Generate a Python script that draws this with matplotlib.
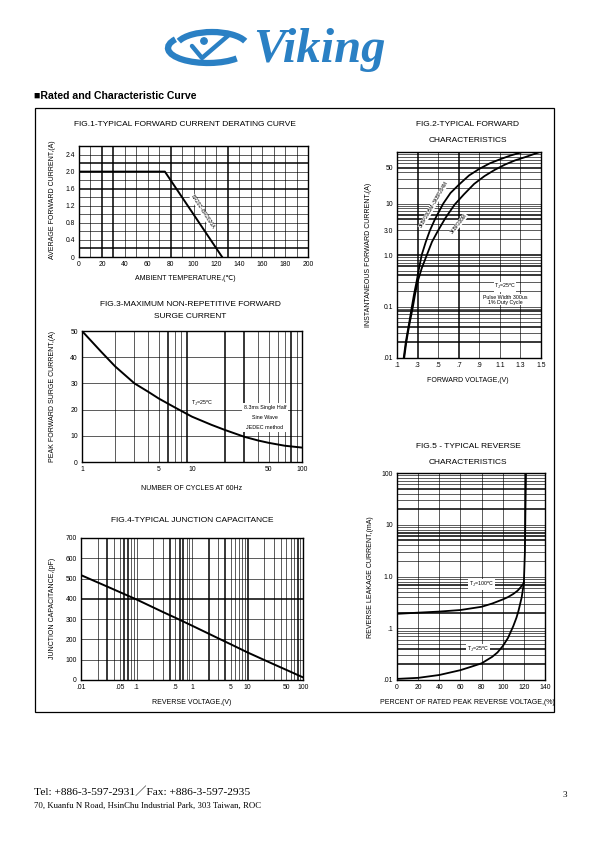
import numpy as np
import matplotlib
matplotlib.use("Agg")
import matplotlib.pyplot as plt
from matplotlib.patches import Rectangle, Arc

plt.rcParams["font.family"] = ["Liberation Sans", "DejaVu Sans"]
plt.rcParams["mathtext.fontset"] = "custom"
plt.rcParams["mathtext.rm"] = "Liberation Sans"

W, H = 595, 842

# -----------------------------
# data
# -----------------------------
# fig.1 derating
temp_c = [0, 75, 125]
avg_current = [2.0, 2.0, 0.0]
fig1_xticks = [0, 20, 40, 60, 80, 100, 120, 140, 160, 180, 200]
fig1_yticks = [0, 0.4, 0.8, 1.2, 1.6, 2.0, 2.4]
fig1_ylabels = ["0", "0.4", "0.8", "1.2", "1.6", "2.0", "2.4"]

# fig.2 forward characteristics
vf_a = [0.165, 0.185, 0.2, 0.22, 0.245, 0.265, 0.29, 0.31, 0.34, 0.38, 0.42, 0.47,
        0.55, 0.62, 0.7, 0.8, 0.9, 1.0, 1.1, 1.2, 1.32]
if_a = [0.01, 0.02, 0.03, 0.05, 0.1, 0.17, 0.3, 0.5, 1.0, 1.8, 3.0, 5.0,
        10, 16, 23, 35, 47, 60, 72, 85, 100]
vf_b = [0.17, 0.19, 0.205, 0.225, 0.255, 0.275, 0.3, 0.34, 0.39, 0.44, 0.5, 0.57,
        0.66, 0.75, 0.85, 0.95, 1.05, 1.15, 1.25, 1.35, 1.49]
if_b = [0.01, 0.02, 0.03, 0.05, 0.1, 0.17, 0.3, 0.55, 1.0, 1.8, 3.0, 5.2,
        9.5, 15, 24, 34, 45, 57, 69, 80, 100]
fig2_xticks = [0.1, 0.3, 0.5, 0.7, 0.9, 1.1, 1.3, 1.5]
fig2_xlabels = [".1", ".3", ".5", ".7", ".9", "1.1", "1.3", "1.5"]
fig2_yticks = [0.01, 0.1, 1.0, 3.0, 10, 50]
fig2_ylabels = [".01", "0.1", "1.0", "3.0", "10", "50"]

# fig.3 surge current
cycles = [1, 1.5, 2, 3, 4, 5, 7, 10, 15, 20, 30, 40, 50, 70, 100]
surge_a = [50, 42, 36.5, 30, 26.8, 24.2, 20.8, 17.3, 14.2, 12.2, 9.6, 8.2, 7.3, 6.2, 5.5]
fig3_xticks = [1, 5, 10, 50, 100]
fig3_yticks = [0, 10, 20, 30, 40, 50]

# fig.4 junction capacitance
vr = [0.01, 0.03, 0.1, 0.3, 0.5, 1, 3, 5, 10, 30, 50, 100]
cj_pf = [517, 460, 397, 335, 307, 268, 205, 176, 136, 77, 50, 13]
fig4_xticks = [0.01, 0.05, 0.1, 0.5, 1, 5, 10, 50, 100]
fig4_xlabels = [".01", ".05", ".1", ".5", "1", "5", "10", "50", "100"]
fig4_yticks = [0, 100, 200, 300, 400, 500, 600, 700]

# fig.5 reverse characteristics
pct_100 = [0, 20, 40, 60, 80, 90, 100, 105, 110, 114, 117, 120, 121, 121.5, 122]
ir_100 = [0.19, 0.2, 0.21, 0.225, 0.26, 0.3, 0.36, 0.4, 0.46, 0.53, 0.62, 0.75, 3, 20, 100]
pct_25 = [0, 20, 40, 60, 70, 80, 90, 95, 100, 105, 110, 113, 115, 118, 120]
ir_25 = [0.0105, 0.011, 0.0125, 0.0155, 0.018, 0.021, 0.028, 0.034, 0.045, 0.065, 0.11,
         0.16, 0.22, 0.4, 0.75]
fig5_xticks = [0, 20, 40, 60, 80, 100, 120, 140]
fig5_yticks = [0.01, 0.1, 1.0, 10, 100]
fig5_ylabels = [".01", ".1", "1.0", "10", "100"]

BLUE = "#2a80c4"
TICK_FS = 4.9
LABEL_FS = 5.0
TITLE_FS = 6.0


def add_ax(l, t, r, b):
    return fig.add_axes([l / W, 1 - b / H, (r - l) / W, (b - t) / H])


def style_ax(ax):
    for s in ax.spines.values():
        s.set_linewidth(1.0)
        s.set_color("black")
    ax.tick_params(length=0, labelsize=TICK_FS, pad=3)
    ax.minorticks_off()


def vgrid(ax, xs, thick=()):
    for x in xs:
        ax.axvline(x, color="black", lw=1.1 if x in thick else 0.45, zorder=1)


def hgrid(ax, ys, thick=()):
    for y in ys:
        ax.axhline(y, color="black", lw=1.1 if y in thick else 0.45, zorder=1)


def log_minors(lo_exp, hi_exp):
    out = []
    for e in range(lo_exp, hi_exp):
        for m in range(2, 10):
            out.append(round(m * 10.0 ** e, 6))
    return out


fig = plt.figure(figsize=(W / 100, H / 100), dpi=100)

# page layer (pixel coordinates)
page = fig.add_axes([0, 0, 1, 1])
page.set_xlim(0, W)
page.set_ylim(H, 0)
page.axis("off")

# logo
page.add_patch(Arc((208, 48), 80, 30, theta1=20, theta2=195, color=BLUE, lw=4.5))
page.add_patch(Arc((212, 47), 72, 30, theta1=190, theta2=350, color=BLUE, lw=4.5))
page.plot([192, 202, 230], [46, 58, 34], color=BLUE, lw=3.2, solid_capstyle="round")
page.add_patch(plt.Circle((204, 41), 3.2, color=BLUE))
page.text(253, 50, "Viking", family="Liberation Serif", style="italic", weight="bold",
          fontsize=35, color=BLUE, va="center", ha="left")

page.text(34, 96, "\u25a0Rated and Characteristic Curve", fontsize=7.6, weight="bold",
          va="center", ha="left")
page.add_patch(Rectangle((35, 108), 519, 604, fill=False, lw=0.9, ec="black"))

# footer
page.text(34, 792, "Tel: +886-3-597-2931\uff0fFax: +886-3-597-2935",
          family=["Liberation Serif", "Noto Sans CJK SC"],
          fontsize=8.2, va="center", ha="left")
page.text(34, 806, "70, Kuanfu N Road, HsinChu Industrial Park, 303 Taiwan, ROC",
          family="Liberation Serif", fontsize=6.3, va="center", ha="left")
page.text(563, 795, "3", family="Liberation Serif", fontsize=6.5, va="center", ha="left")

# titles and axis labels (pixel coordinates)
page.text(185, 125, "FIG.1-TYPICAL FORWARD CURRENT DERATING CURVE", fontsize=TITLE_FS, ha="center", va="center")
page.text(185, 279, "AMBIENT TEMPERATURE,(\u2103)", fontsize=LABEL_FS, ha="center", va="center")
page.text(53, 200, "AVERAGE FORWARD CURRENT,(A)", fontsize=LABEL_FS, ha="center", va="center", rotation=90)

page.text(468, 124, "FIG.2-TYPICAL FORWARD", fontsize=TITLE_FS, ha="center", va="center")
page.text(468, 141, "CHARACTERISTICS", fontsize=TITLE_FS, ha="center", va="center")
page.text(468, 380, "FORWARD VOLTAGE,(V)", fontsize=LABEL_FS, ha="center", va="center")
page.text(368, 255, "INSTANTANEOUS FORWARD CURRENT,(A)", fontsize=LABEL_FS, ha="center", va="center", rotation=90)

page.text(190, 305, "FIG.3-MAXIMUM NON-REPETITIVE FORWARD", fontsize=TITLE_FS, ha="center", va="center")
page.text(190, 316, "SURGE CURRENT", fontsize=TITLE_FS, ha="center", va="center")
page.text(192, 488, "NUMBER OF CYCLES AT 60Hz", fontsize=LABEL_FS, ha="center", va="center")
page.text(53, 396, "PEAK FORWARD SURGE CURRENT,(A)", fontsize=LABEL_FS, ha="center", va="center", rotation=90)

page.text(192, 521, "FIG.4-TYPICAL JUNCTION CAPACITANCE", fontsize=TITLE_FS, ha="center", va="center")
page.text(192, 703, "REVERSE VOLTAGE,(V)", fontsize=LABEL_FS, ha="center", va="center")
page.text(53, 608, "JUNCTION CAPACITANCE,(pF)", fontsize=LABEL_FS, ha="center", va="center", rotation=90)

page.text(468, 446, "FIG.5 - TYPICAL REVERSE", fontsize=TITLE_FS, ha="center", va="center")
page.text(468, 463, "CHARACTERISTICS", fontsize=TITLE_FS, ha="center", va="center")
page.text(467, 703, "PERCENT OF RATED PEAK REVERSE VOLTAGE,(%)", fontsize=LABEL_FS, ha="center", va="center")
page.text(371, 577, "REVERSE LEAKAGE CURRENT,(mA)", fontsize=LABEL_FS, ha="center", va="center", rotation=90)

# -----------------------------
# FIG.1
# -----------------------------
ax1 = add_ax(79, 146, 308, 257)
ax1.set_xlim(0, 200)
ax1.set_ylim(0, 2.6)
vgrid(ax1, range(10, 200, 10), thick=(20, 30, 80, 130))
hgrid(ax1, [0.2, 0.4, 0.6, 0.8, 1.0, 1.2, 1.4, 1.6, 1.8, 2.0, 2.2, 2.4],
      thick=(0.2, 1.6, 2.2))
ax1.plot(temp_c, avg_current, color="black", lw=1.4, zorder=3)
ax1.set_xticks(fig1_xticks)
ax1.set_yticks(fig1_yticks, fig1_ylabels)
ax1.text(108, 1.05, "BR202~BR2020A", fontsize=3.6, rotation=-57, ha="center", va="center",
         zorder=4, bbox=dict(facecolor="white", edgecolor="none", pad=0.3))
style_ax(ax1)

# -----------------------------
# FIG.2
# -----------------------------
ax2 = add_ax(397, 152, 541, 358)
ax2.set_yscale("log")
ax2.set_xlim(0.1, 1.5)
ax2.set_ylim(0.01, 100)
vgrid(ax2, [0.3, 0.5, 0.7, 0.9, 1.1, 1.3], thick=(0.3, 0.7))
hgrid(ax2, [0.1, 1.0, 10] + log_minors(-2, 2), thick=(0.02, 0.04, 0.08, 0.4, 0.6, 1.0, 5.0, 6.0, 50.0))
ax2.plot(vf_a, if_a, color="black", lw=1.3, zorder=3)
ax2.plot(vf_b, if_b, color="black", lw=1.3, zorder=3)
ax2.set_xticks(fig2_xticks, fig2_xlabels)
ax2.set_yticks(fig2_yticks, fig2_ylabels)
ax2.text(0.455, 9.5, "3KBP2005M~3KBP204M", fontsize=3.4, rotation=60, ha="center", va="center",
         zorder=4, bbox=dict(facecolor="white", edgecolor="none", pad=0.3))
ax2.text(0.7, 4.0, "3KBP206M", fontsize=3.4, rotation=52, ha="center", va="center",
         zorder=4, bbox=dict(facecolor="white", edgecolor="none", pad=0.3))
ax2.text(1.15, 0.24, r"T$_\mathregular{J}$=25$\mathregular{^o}$C", fontsize=3.8, ha="center", va="center",
         zorder=4, bbox=dict(facecolor="white", edgecolor="none", pad=0.3))
ax2.text(1.15, 0.135, "Pulse Width 300us\n1% Duty Cycle", fontsize=3.8, ha="center", va="center",
         zorder=4, linespacing=1.1, bbox=dict(facecolor="white", edgecolor="none", pad=0.3))
style_ax(ax2)

# -----------------------------
# FIG.3
# -----------------------------
ax3 = add_ax(82, 331, 302, 462)
ax3.set_xscale("log")
ax3.set_xlim(1, 100)
ax3.set_ylim(0, 50)
vgrid(ax3, log_minors(0, 2), thick=(6.0, 9.0, 20.0, 30.0, 80.0))
hgrid(ax3, [10, 20, 30, 40])
ax3.plot(cycles, surge_a, color="black", lw=1.4, zorder=3)
ax3.set_xticks(fig3_xticks, [str(v) for v in fig3_xticks])
ax3.set_yticks(fig3_yticks)
ax3.text(12.5, 22.5, r"T$_\mathregular{J}$=25$\mathregular{^o}$C", fontsize=3.9, ha="center", va="center",
         zorder=4, bbox=dict(facecolor="white", edgecolor="none", pad=0.8))
ax3.text(46, 17, "8.3ms Single Half\n\nSine Wave\n\nJEDEC method", fontsize=3.9, ha="center", va="center",
         zorder=4, linespacing=1.0, bbox=dict(facecolor="white", edgecolor="none", pad=1.5))
style_ax(ax3)

# -----------------------------
# FIG.4
# -----------------------------
ax4 = add_ax(81, 538, 303, 680)
ax4.set_xscale("log")
ax4.set_xlim(0.01, 100)
ax4.set_ylim(0, 700)
vgrid(ax4, [0.1, 1.0, 10.0] + log_minors(-2, 2),
      thick=(0.03, 0.06, 0.07, 0.4, 0.6, 0.7, 2.0, 4.0, 10.0, 80.0))
hgrid(ax4, [100, 200, 300, 400, 500, 600], thick=(400,))
ax4.plot(vr, cj_pf, color="black", lw=1.4, zorder=3)
ax4.set_xticks(fig4_xticks, fig4_xlabels)
ax4.set_yticks(fig4_yticks)
style_ax(ax4)

# -----------------------------
# FIG.5
# -----------------------------
ax5 = add_ax(397, 473, 545, 680)
ax5.set_yscale("log")
ax5.set_xlim(0, 140)
ax5.set_ylim(0.01, 100)
vgrid(ax5, [20, 40, 60, 80, 100, 120])
hgrid(ax5, [0.1, 1.0, 10] + log_minors(-2, 2),
      thick=(0.02, 0.04, 0.2, 0.7, 5.0, 6.0, 7.0, 20.0, 50.0))
ax5.plot(pct_100, ir_100, color="black", lw=1.3, zorder=3)
ax5.plot(pct_25, ir_25, color="black", lw=1.3, zorder=3)
ax5.set_xticks(fig5_xticks)
ax5.set_yticks(fig5_yticks, fig5_ylabels)
ax5.text(80, 0.7, r"T$_\mathregular{J}$=100$\mathregular{^o}$C", fontsize=3.8, ha="center", va="center",
         zorder=4, bbox=dict(facecolor="white", edgecolor="none", pad=0.8))
ax5.text(77, 0.039, r"T$_\mathregular{J}$=25$\mathregular{^o}$C", fontsize=3.8, ha="center", va="center",
         zorder=4, bbox=dict(facecolor="white", edgecolor="none", pad=0.8))
style_ax(ax5)

fig.savefig("out.png", dpi=100)
